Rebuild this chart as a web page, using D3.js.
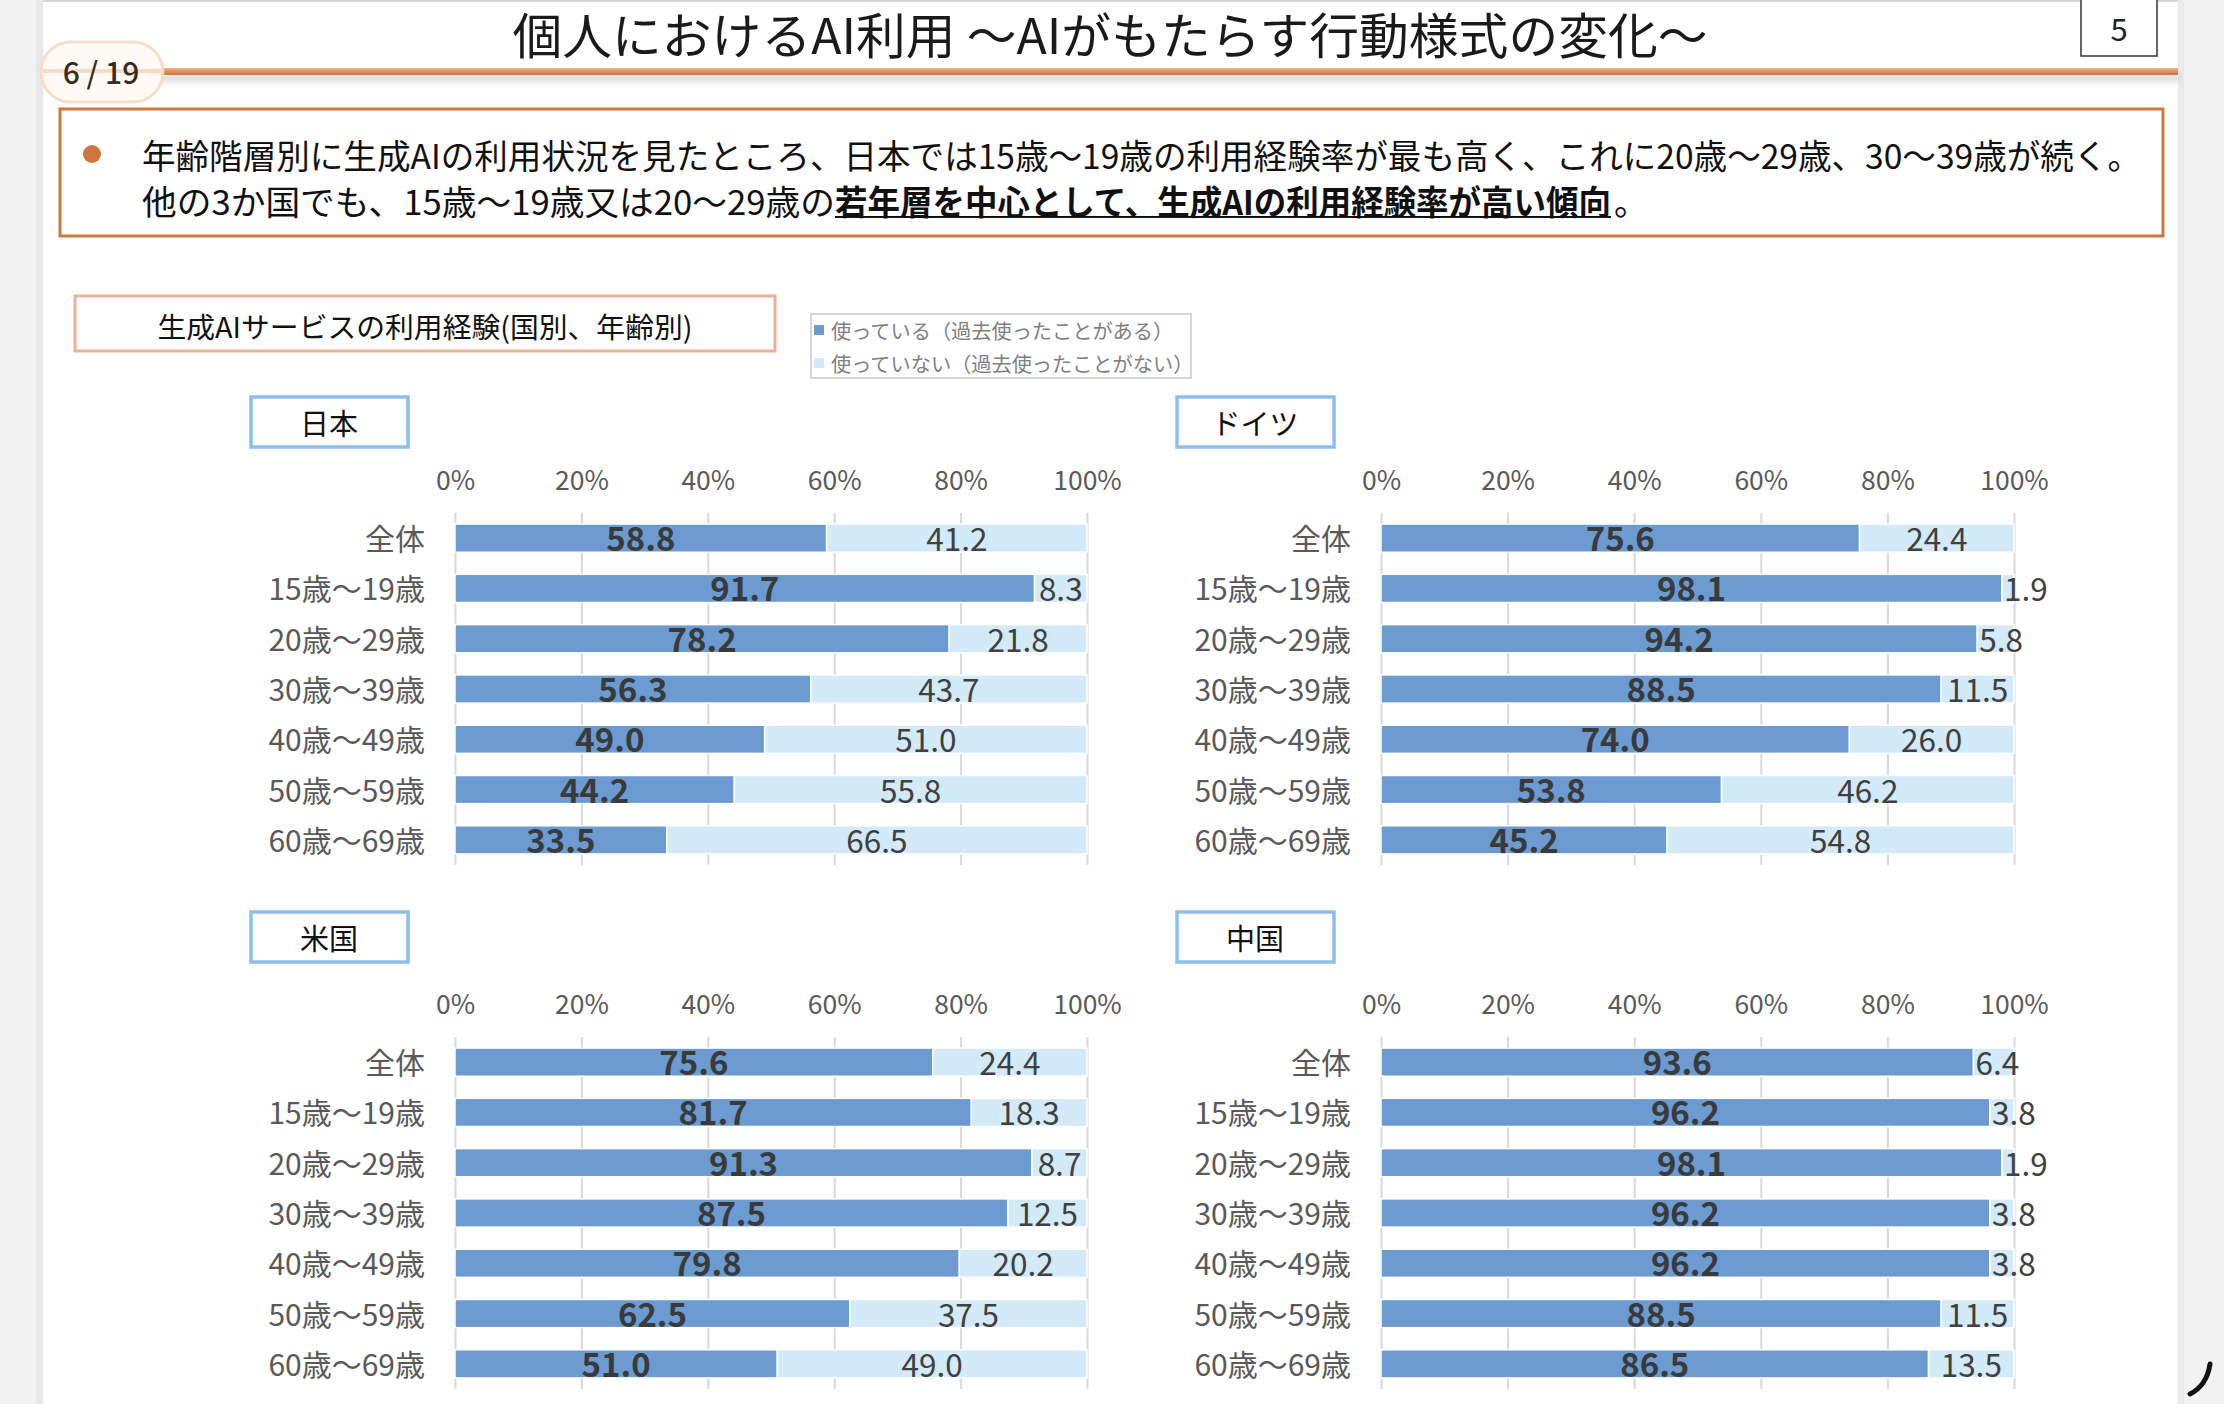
<!DOCTYPE html>
<html>
<head>
<meta charset="utf-8">
<script src="https://cdn.jsdelivr.net/npm/d3@7"></script>
<style>
    body { margin: 0; background: #fff; }
    svg { display: block; }
    text { font-family: "Noto Sans CJK JP", "Noto Sans", sans-serif; }
</style>
</head>
<body>
<div id="chart"></div>
<script>
// --- data ---
const ageGroups = ['全体', '15歳～19歳', '20歳～29歳', '30歳～39歳', '40歳～49歳', '50歳～59歳', '60歳～69歳'];
const countries = ['日本', 'ドイツ', '米国', '中国'];
const usedJapan = [58.8, 91.7, 78.2, 56.3, 49.0, 44.2, 33.5];
const notUsedJapan = [41.2, 8.3, 21.8, 43.7, 51.0, 55.8, 66.5];
const usedGermany = [75.6, 98.1, 94.2, 88.5, 74.0, 53.8, 45.2];
const notUsedGermany = [24.4, 1.9, 5.8, 11.5, 26.0, 46.2, 54.8];
const usedUS = [75.6, 81.7, 91.3, 87.5, 79.8, 62.5, 51.0];
const notUsedUS = [24.4, 18.3, 8.7, 12.5, 20.2, 37.5, 49.0];
const usedChina = [93.6, 96.2, 98.1, 96.2, 96.2, 88.5, 86.5];
const notUsedChina = [6.4, 3.8, 1.9, 3.8, 3.8, 11.5, 13.5];
const tickValues = [0, 20, 40, 60, 80, 100];
const legendLabels = ['使っている（過去使ったことがある）', '使っていない（過去使ったことがない）'];

const pageTitle = '個人におけるAI利用 ～AIがもたらす行動様式の変化～';
const summaryLine1 = '年齢階層別に生成AIの利用状況を見たところ、日本では15歳～19歳の利用経験率が最も高く、これに20歳～29歳、30～39歳が続く。';
const summaryLine2 = ['他の3か国でも、15歳～19歳又は20～29歳の', '若年層を中心として、生成AIの利用経験率が高い傾向', '。'];
const chartTitle = '生成AIサービスの利用経験(国別、年齢別)';

const BLUE = '#6b9bd1';
const LIGHT = '#d3ebf8';
const ORANGE = '#d2763f';
const TEXT = '#404040';

const W = 2224, H = 1404;
const svg = d3.select('#chart').append('svg').attr('width', W).attr('height', H);
const defs = svg.append('defs');

// --- page frame ---
svg.append('rect').attr('width', W).attr('height', H).attr('fill', '#f2f2f2');
svg.append('rect').attr('x', 43).attr('y', 0).attr('width', 2178 - 43).attr('height', H).attr('fill', '#fff');
svg.append('rect').attr('x', 43).attr('y', 0).attr('width', 2178 - 43).attr('height', 2).attr('fill', '#d6d6d6');
svg.append('rect').attr('x', 36).attr('y', 0).attr('width', 7).attr('height', H).attr('fill', '#e8e8e8');
svg.append('rect').attr('x', 2178).attr('y', 0).attr('width', 6).attr('height', H).attr('fill', '#ebebeb');

// title
svg.append('text')
    .attr('x', 1110).attr('y', 32)
    .attr('text-anchor', 'middle').attr('dominant-baseline', 'central')
    .attr('font-size', 49).attr('fill', '#1a1a1a')
    .attr('textLength', 1195).attr('lengthAdjust', 'spacingAndGlyphs')
    .text(pageTitle);

// page number box
svg.append('rect').attr('x', 2081).attr('y', -2).attr('width', 76).attr('height', 58)
    .attr('fill', '#fff').attr('stroke', '#333').attr('stroke-width', 1.5);
svg.append('text').attr('x', 2119).attr('y', 27)
    .attr('text-anchor', 'middle').attr('dominant-baseline', 'central')
    .attr('font-size', 31).attr('fill', '#222').text('5');

// orange rule under title
const rule = defs.append('linearGradient').attr('id', 'rule').attr('x1', 0).attr('y1', 0).attr('x2', 0).attr('y2', 1);
rule.append('stop').attr('offset', '0%').attr('stop-color', '#f2b385');
rule.append('stop').attr('offset', '100%').attr('stop-color', '#cf7039');
const blur = defs.append('filter').attr('id', 'soft').attr('x', '-5%').attr('y', '-200%').attr('width', '110%').attr('height', '500%');
blur.append('feGaussianBlur').attr('stdDeviation', 3);
svg.append('rect').attr('x', 150).attr('y', 74).attr('width', 2030).attr('height', 8)
    .attr('fill', '#bdbdbd').attr('opacity', 0.55).attr('filter', 'url(#soft)');
svg.append('rect').attr('x', 150).attr('y', 68).attr('width', 2028).attr('height', 7)
    .attr('fill', 'url(#rule)');

// page badge
svg.append('rect').attr('x', 41).attr('y', 42).attr('width', 122).attr('height', 60).attr('rx', 30)
    .attr('fill', '#fffaf5').attr('stroke', '#f6dcc4').attr('stroke-width', 3).attr('opacity', 0.95);
svg.append('rect').attr('x', 43).attr('y', 69).attr('width', 118).attr('height', 4)
    .attr('fill', '#f3c7a3').attr('opacity', 0.6);
svg.append('text').attr('x', 101).attr('y', 71)
    .attr('text-anchor', 'middle').attr('dominant-baseline', 'central')
    .attr('font-family', 'Inter, "Noto Sans", sans-serif')
    .attr('font-size', 30).attr('font-weight', 500).attr('fill', '#3b2a1e')
    .text('6 / 19');

// --- summary box ---
svg.append('rect').attr('x', 60).attr('y', 109).attr('width', 2103).attr('height', 127)
    .attr('fill', '#fff').attr('stroke', ORANGE).attr('stroke-width', 3);
svg.append('circle').attr('cx', 92).attr('cy', 154).attr('r', 9).attr('fill', ORANGE);
svg.append('text').attr('x', 142).attr('y', 154)
    .attr('dominant-baseline', 'central').attr('font-size', 34).attr('fill', '#111')
    .attr('textLength', 1999).attr('lengthAdjust', 'spacingAndGlyphs')
    .text(summaryLine1);

// second line: plain part, bold underlined part, full stop
const plainW = 693, boldW = 776;
svg.append('text').attr('x', 142).attr('y', 200)
    .attr('dominant-baseline', 'central').attr('font-size', 34).attr('fill', '#111')
    .attr('textLength', plainW).attr('lengthAdjust', 'spacingAndGlyphs')
    .text(summaryLine2[0]);
svg.append('text').attr('x', 142 + plainW).attr('y', 200)
    .attr('dominant-baseline', 'central').attr('font-size', 34).attr('font-weight', 700).attr('fill', '#111')
    .attr('textLength', boldW).attr('lengthAdjust', 'spacingAndGlyphs')
    .text(summaryLine2[1]);
svg.append('text').attr('x', 142 + plainW + boldW + 3).attr('y', 200)
    .attr('dominant-baseline', 'central').attr('font-size', 34).attr('fill', '#111')
    .text(summaryLine2[2]);
svg.append('line')
    .attr('x1', 142 + plainW).attr('x2', 142 + plainW + boldW)
    .attr('y1', 217).attr('y2', 217)
    .attr('stroke', '#111').attr('stroke-width', 2);

// --- chart title & legend ---
svg.append('rect').attr('x', 75).attr('y', 296).attr('width', 700).attr('height', 55)
    .attr('fill', '#fff').attr('stroke', '#e6b396').attr('stroke-width', 3);
svg.append('text').attr('x', 425).attr('y', 325)
    .attr('text-anchor', 'middle').attr('dominant-baseline', 'central')
    .attr('font-size', 28.8).attr('fill', '#111').text(chartTitle);

svg.append('rect').attr('x', 811).attr('y', 314).attr('width', 380).attr('height', 64)
    .attr('fill', '#fff').attr('stroke', '#c9c9c9').attr('stroke-width', 1.5);
const legend = svg.append('g').selectAll('g').data(legendLabels).join('g')
    .attr('transform', (d, i) => `translate(814,${330 + i * 33})`);
legend.append('rect').attr('x', 0).attr('y', -5).attr('width', 10).attr('height', 10)
    .attr('fill', (d, i) => (i === 0 ? BLUE : LIGHT));
legend.append('text').attr('x', 17).attr('y', 0)
    .attr('dominant-baseline', 'central').attr('font-size', 20.2).attr('fill', '#7f7f7f')
    .text(d => d);

// --- four country panels ---
const series = [
    { used: usedJapan, notUsed: notUsedJapan },
    { used: usedGermany, notUsed: notUsedGermany },
    { used: usedUS, notUsed: notUsedUS },
    { used: usedChina, notUsed: notUsedChina }
];
const panels = [
    { box: [251, 397], range: [455, 1087], top: 513 },
    { box: [1177, 397], range: [1381, 2014], top: 513 },
    { box: [251, 912], range: [455, 1087], top: 1037 },
    { box: [1177, 912], range: [1381, 2014], top: 1037 }
];

panels.forEach((p, i) => drawPanel(p, countries[i], series[i]));

function drawPanel(p, name, s) {
    const g = svg.append('g');

    g.append('rect').attr('x', p.box[0]).attr('y', p.box[1]).attr('width', 157).attr('height', 50)
        .attr('fill', '#fff').attr('stroke', '#8dbfee').attr('stroke-width', 3.5);
    g.append('text').attr('x', p.box[0] + 78).attr('y', p.box[1] + 25)
        .attr('text-anchor', 'middle').attr('dominant-baseline', 'central')
        .attr('font-size', 29).attr('fill', '#111').text(name);

    const x = d3.scaleLinear().domain([0, 100]).range(p.range);
    const y = d3.scaleBand().domain(ageGroups).range([p.top, p.top + 352])
        .paddingInner(0.44).paddingOuter(0.22);

    // gridlines
    const grid = g.append('g').attr('transform', `translate(0,${p.top})`)
        .call(d3.axisBottom(x).tickValues(tickValues).tickSize(352).tickFormat(''));
    grid.select('.domain').remove();
    grid.selectAll('line').attr('stroke', '#d9d9d9').attr('stroke-width', 2);

    // percent ticks
    const top = g.append('g').attr('transform', `translate(0,${p.top - 35})`)
        .call(d3.axisTop(x).tickValues(tickValues).tickSize(0).tickPadding(0).tickFormat(d => d + '%'));
    top.select('.domain').remove();
    top.selectAll('text').attr('font-size', 26.5).attr('fill', '#595959')
        .attr('font-family', '"Noto Sans CJK JP", sans-serif')
        .attr('dominant-baseline', 'central').attr('dy', null);

    // age labels
    const left = g.append('g').attr('transform', `translate(${p.range[0]},-1)`)
        .call(d3.axisLeft(y).tickSize(0).tickPadding(30));
    left.select('.domain').remove();
    left.selectAll('text').attr('font-size', 30).attr('fill', '#595959')
        .attr('font-family', '"Noto Sans CJK JP", sans-serif')
        .attr('dominant-baseline', 'central').attr('dy', null);

    const rows = ageGroups.map((a, i) => ({ age: a, used: s.used[i], notUsed: s.notUsed[i] }));
    const row = g.append('g').selectAll('g').data(rows).join('g');

    row.append('rect')
        .attr('x', x(0)).attr('y', d => y(d.age))
        .attr('width', d => x(d.used) - x(0)).attr('height', y.bandwidth())
        .attr('fill', BLUE).attr('stroke', '#fff').attr('stroke-width', 1.5);
    row.append('rect')
        .attr('x', d => x(d.used)).attr('y', d => y(d.age))
        .attr('width', d => x(d.used + d.notUsed) - x(d.used)).attr('height', y.bandwidth())
        .attr('fill', LIGHT).attr('stroke', '#fff').attr('stroke-width', 1.5);

    row.append('text')
        .attr('x', d => (x(0) + x(d.used)) / 2).attr('y', d => y(d.age) + y.bandwidth() / 2 - 1)
        .attr('text-anchor', 'middle').attr('dominant-baseline', 'central')
        .attr('font-family', '"Noto Sans", sans-serif')
        .attr('font-size', 33).attr('font-weight', 700).attr('fill', '#3a3a3a')
        .text(d => d.used.toFixed(1));

    row.append('text')
        .attr('y', d => y(d.age) + y.bandwidth() / 2 - 1)
        .attr('dominant-baseline', 'central')
        .attr('font-family', '"Noto Sans", sans-serif')
        .attr('font-size', 31.5).attr('fill', TEXT)
        .text(d => d.notUsed.toFixed(1))
        .each(function (d) {
            const w = this.getComputedTextLength();
            const x0 = x(d.used), x1 = x(d.used + d.notUsed);
            if (x1 - x0 < w + 6) {
                d3.select(this).attr('x', x0 + 2).attr('text-anchor', 'start');
            } else {
                d3.select(this).attr('x', (x0 + x1) / 2).attr('text-anchor', 'middle');
            }
        });
}

// stray pen mark at the bottom-right corner of the screenshot
svg.append('path')
    .attr('d', 'M2210,1364 C2208,1378 2202,1388 2190,1394')
    .attr('fill', 'none').attr('stroke', '#111').attr('stroke-width', 5).attr('stroke-linecap', 'round');
</script>
</body>
</html>
